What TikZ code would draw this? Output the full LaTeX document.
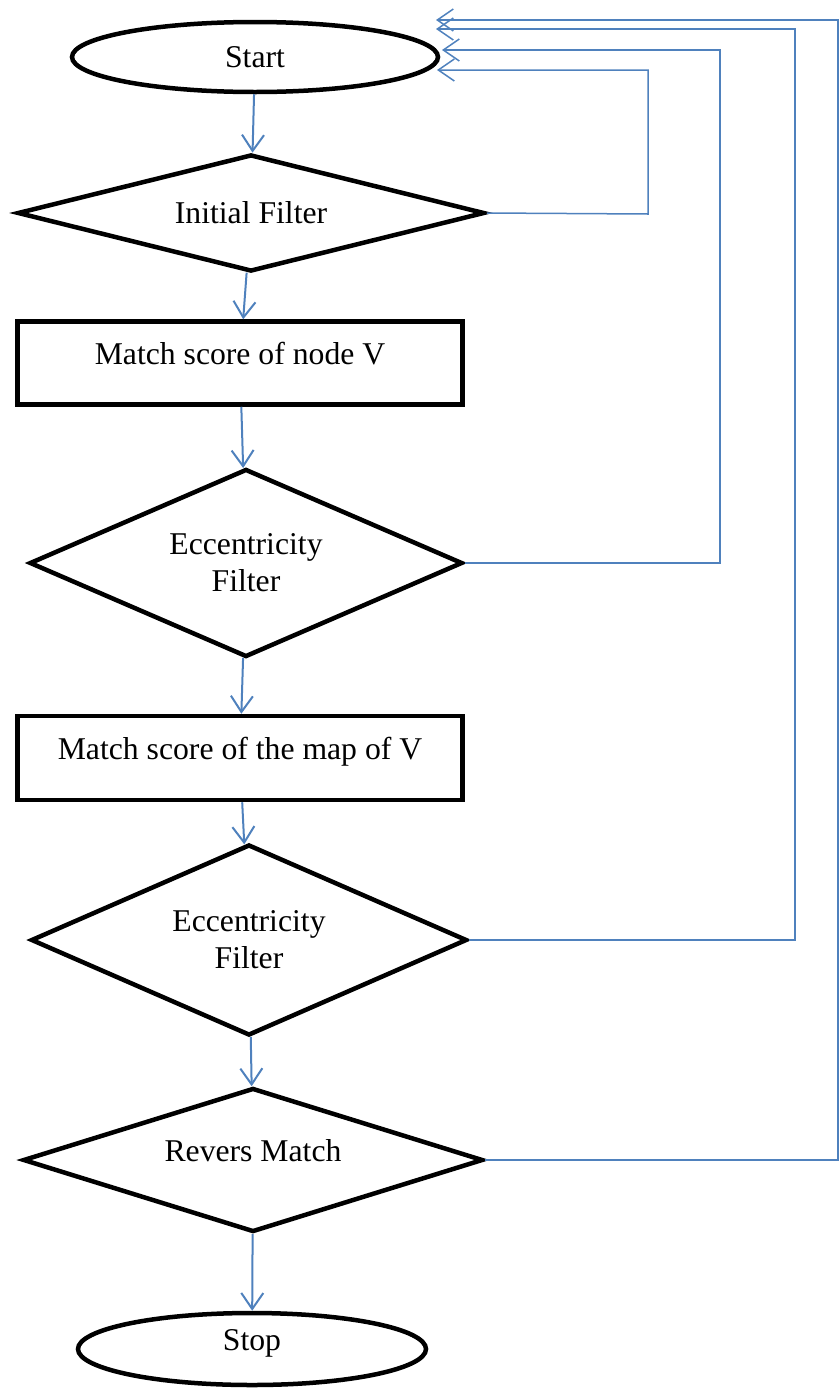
\documentclass[tikz,border=0pt]{standalone}
\usepackage{fontspec}
\setmainfont{Liberation Serif}
\usepackage{tikz}
\usetikzlibrary{arrows.meta,
                shapes.geometric}
\definecolor{flowblue}{RGB}{79,129,189}

\begin{document}
\begin{tikzpicture}[x=1pt, y=-1pt,
every node/.style = {font=\fontsize{31.7}{37}\selectfont, align=center, inner sep=0pt},
every edge/.style = {draw, -{Straight Barb[length=16pt,width=22pt]}, line width=2pt, flowblue},
     term/.style = {ellipse, draw, line width=4.5pt},
     test/.style = {diamond, aspect=3, draw, line width=4.5pt},
  process/.style = {rectangle, draw, line width=4.5pt},
   lifted/.style = {text height=22pt, text depth=20pt},
     back/.style = {draw, -{Straight Barb[length=16pt,width=22pt]}, line width=1.5pt, flowblue}
                    ]
\useasboundingbox (0,0) rectangle (840,1390);

\node (start) [term, minimum width=366pt, minimum height=70pt]   at (255,57)   {Start};
\node (ifil)  [test, minimum width=467pt, minimum height=117pt]  at (251,213)  {Initial Filter};
\node (box1)  [process, lifted, minimum width=445pt, minimum height=83pt] at (240,363) {Match score of node V};
\node (ecc1)  [test, minimum width=433pt, minimum height=188pt]  at (246,563)  {Eccentricity\\Filter};
\node (box2)  [process, lifted, minimum width=445pt, minimum height=84pt] at (240,758) {Match score of the map of V};
\node (ecc2)  [test, minimum width=436pt, minimum height=191pt]  at (249,940)  {Eccentricity\\Filter};
\node (rev)   [test, lifted, minimum width=460pt, minimum height=144pt] at (253,1160) {Revers Match};
\node (stop)  [term, lifted, minimum width=348pt, minimum height=72pt] at (252,1349) {Stop};

% way back to start
\coordinate (r1) at (437,70);
\coordinate (r2) at (442,50);
\coordinate (r3) at (436,29);
\coordinate (r4) at (436,20);

\draw   (start) edge (ifil)
        (ifil)  edge (box1)
        (box1)  edge (ecc1)
        (ecc1)  edge (box2)
        (box2)  edge (ecc2)
        (ecc2)  edge (rev)
        (rev)   edge (stop);

\draw[back] (ifil.east) -- (648,214) |- (r1);
\draw[back] (ecc1.east) -- (720,563) |- (r2);
\draw[back] (ecc2.east) -- (795,940) |- (r3);
\draw[back] (rev.east)  -- (838,1160) |- (r4);
\end{tikzpicture}
\end{document}
